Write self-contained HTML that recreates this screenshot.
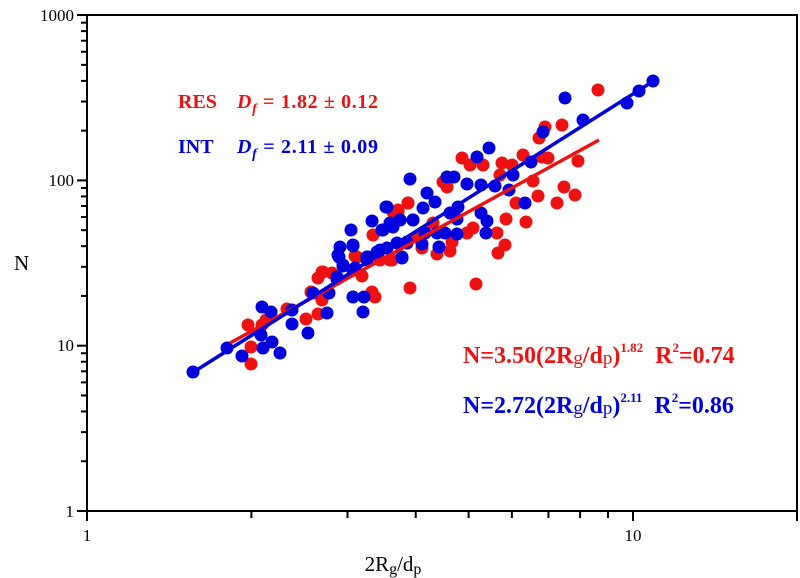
<!DOCTYPE html>
<html><head><meta charset="utf-8"><style>
html,body{margin:0;padding:0;background:#fff;}
svg{display:block;font-family:"Liberation Serif",serif;}
</style></head><body>
<svg id="s" width="800" height="578" viewBox="0 0 800 578" xmlns="http://www.w3.org/2000/svg">
<rect x="0" y="0" width="800" height="578" fill="#fff"/>
<g id="pts"></g>
<line x1="230" y1="343" x2="599" y2="140" stroke="#ee1111" stroke-width="3.5"/>
<line x1="192" y1="373" x2="655" y2="80" stroke="#0000dd" stroke-width="3.5"/>
<rect x="87" y="15" width="710" height="496" fill="none" stroke="#000" stroke-width="2"/>
<g id="ticks" stroke="#000" stroke-width="2"></g>
<g font-size="17" fill="#000">
<text x="74" y="21" text-anchor="end">1000</text>
<text x="74" y="186" text-anchor="end">100</text>
<text x="74" y="351" text-anchor="end">10</text>
<text x="74" y="517" text-anchor="end">1</text>
<text x="87" y="541" text-anchor="middle">1</text>
<text x="633" y="541" text-anchor="middle">10</text>
</g>
<text x="14" y="270" font-size="21">N</text>
<text x="393" y="571" font-size="21" text-anchor="middle">2R<tspan font-size="16" dy="3">g</tspan><tspan dy="-3">/d</tspan><tspan font-size="16" dy="3">p</tspan></text>
<g font-weight="bold" font-size="20">
<text x="178" y="108" fill="#ee1111">RES</text>
<text x="237" y="108" fill="#ee1111" textLength="141"><tspan font-style="italic">D</tspan><tspan font-style="italic" font-size="14" dy="5">f</tspan><tspan dy="-5"> = 1.82 ± 0.12</tspan></text>
<text x="178" y="153" fill="#0000dd">INT</text>
<text x="237" y="153" fill="#0000dd" textLength="141"><tspan font-style="italic">D</tspan><tspan font-style="italic" font-size="14" dy="5">f</tspan><tspan dy="-5"> = 2.11 ± 0.09</tspan></text>
</g>
<g font-weight="bold" font-size="24">
<text x="463" y="363" fill="#ee1111">N=3.50(2R<tspan font-size="19" font-weight="normal" dy="1">g</tspan><tspan dy="-1">/d</tspan><tspan font-size="19" font-weight="normal" dy="1">p</tspan><tspan dy="-1">)</tspan><tspan font-size="13" dy="-11">1.82</tspan><tspan dy="11" dx="12">R</tspan><tspan font-size="13" dy="-11">2</tspan><tspan dy="11">=0.74</tspan></text>
<text x="463" y="413" fill="#0000dd">N=2.72(2R<tspan font-size="19" font-weight="normal" dy="1">g</tspan><tspan dy="-1">/d</tspan><tspan font-size="19" font-weight="normal" dy="1">p</tspan><tspan dy="-1">)</tspan><tspan font-size="13" dy="-11">2.11</tspan><tspan dy="11" dx="12">R</tspan><tspan font-size="13" dy="-11">2</tspan><tspan dy="11">=0.86</tspan></text>
</g>
<script>
var NS="http://www.w3.org/2000/svg";
var red=[[598,90],[562,125],[545,127],[539,138],[462,158],[470,165],[483,165],[502,163],[512,165],[523,155],[542,157],[548,158],[578,161],[443,182],[447,187],[500,175],[533,181],[564,187],[575,195],[557,203],[538,196],[516,203],[506,219],[526,222],[497,233],[505,245],[498,253],[473,228],[467,233],[452,242],[450,251],[437,254],[422,248],[408,203],[398,212],[433,223],[410,288],[476,284],[392,260],[393,212],[373,235],[357,257],[380,260],[390,260],[362,276],[322,272],[332,273],[318,278],[311,292],[322,300],[372,292],[375,297],[287,309],[318,314],[306,319],[248,325],[251,347],[251,364],[408,203],[398,210],[355,256],[417,237],[323,272],[262,325],[266,320]];
var blue=[[565,98],[583,120],[627,103],[639,91],[653,81],[543,132],[489,148],[477,157],[447,177],[454,177],[467,184],[481,185],[495,186],[513,175],[509,190],[531,162],[525,203],[410,179],[427,193],[435,202],[423,208],[450,213],[458,207],[457,219],[481,213],[487,221],[486,233],[457,234],[445,233],[437,233],[425,233],[413,220],[400,220],[393,227],[407,243],[422,244],[439,247],[402,258],[387,207],[372,221],[351,230],[353,245],[340,247],[339,257],[343,266],[353,270],[337,279],[367,257],[380,250],[383,230],[313,293],[329,293],[353,297],[364,297],[363,312],[327,313],[292,310],[292,324],[262,307],[271,312],[308,333],[261,335],[272,342],[263,348],[280,353],[242,356],[227,348],[193,372],[386,207],[382,230],[390,223],[400,220],[413,220],[353,246],[338,255],[368,257],[377,252],[387,248],[397,243],[407,242],[402,257],[343,265],[355,268],[367,260],[337,277]];
var g=document.getElementById("pts");
function dot(p,c){var e=document.createElementNS(NS,"circle");e.setAttribute("cx",p[0]);e.setAttribute("cy",p[1]);e.setAttribute("r",6.5);e.setAttribute("fill",c);g.appendChild(e);}
red.forEach(function(p){dot(p,"#ee1111")});blue.forEach(function(p){dot(p,"#0000dd")});
var t=document.getElementById("ticks");
function ln(a,b,c,d){var e=document.createElementNS(NS,"line");e.setAttribute("x1",a);e.setAttribute("y1",b);e.setAttribute("x2",c);e.setAttribute("y2",d);t.appendChild(e);}
for(var dec=0;dec<3;dec++){for(var k=1;k<10;k++){var y=511-165.3*(dec+Math.log10(k));ln(87,y,k==1?77:81,y);}}
ln(77,15,87,15);
for(var dec=0;dec<2;dec++){for(var k=1;k<10;k++){var x=87+546*(dec+Math.log10(k));if(x>797)break;ln(x,511,x,k==1?521:518);}}
ln(797,511,797,521);
</script>
</svg>
</body></html>
